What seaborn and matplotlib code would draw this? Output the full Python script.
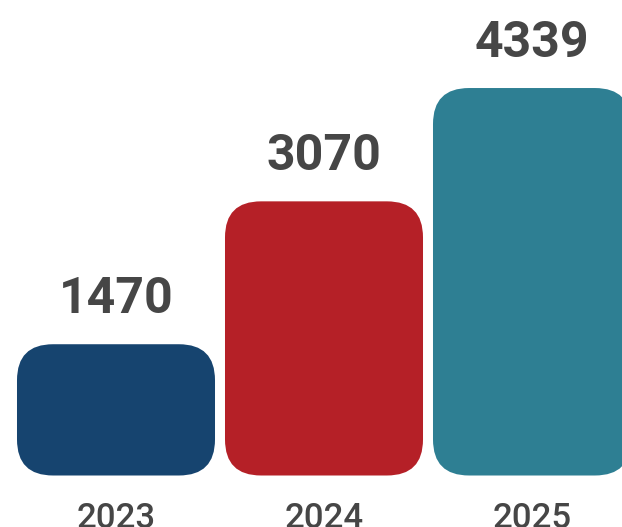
import matplotlib
matplotlib.use("Agg")
import matplotlib.pyplot as plt
import seaborn as sns
import pandas as pd
from matplotlib.patches import FancyBboxPatch

years = ["2023", "2024", "2025"]
values = [1470, 3070, 4339]
colors = ["#16446F", "#B52027", "#2E7F93"]
text_color = "#464646"

sns.set_theme(style="white")
plt.rcParams["font.family"] = ["Roboto", "DejaVu Sans"]

df = pd.DataFrame({"year": years, "value": values})

fig = plt.figure(figsize=(6.22, 5.27), dpi=100)
ax = fig.add_axes([0, 0, 1, 1])
sns.barplot(data=df, x="year", y="value", hue="year", palette=colors,
            width=0.952, legend=False, ax=ax, saturation=1)

px_per_unit = 0.0893
ax.set_xlim(-0.5577, 2.4327)
ax.set_ylim(-51.5 / px_per_unit, (527 - 51.5) / px_per_unit)

x_units_per_px = 1 / 208.0
y_units_per_px = 1 / px_per_unit
aspect = y_units_per_px / x_units_per_px
radius_px = 36

for p, c in zip(list(ax.patches), colors):
    x, y = p.get_x(), p.get_y()
    w, h = p.get_width(), p.get_height()
    p.remove()
    fb = FancyBboxPatch((x, y), w, h,
                        boxstyle=f"round,pad=0,rounding_size={radius_px * x_units_per_px}",
                        mutation_aspect=aspect, facecolor=c, edgecolor="none")
    ax.add_patch(fb)

for i, v in enumerate(values):
    ax.annotate(f"{v}", (i, v), xytext=(0, 31 * 0.72), textcoords="offset points",
                ha="center", va="baseline", fontsize=36, fontweight="bold",
                color=text_color)
    ax.text(i, -51.5 / px_per_unit - 1 / px_per_unit, years[i], ha="center",
            va="baseline", fontsize=25, fontweight="medium", color=text_color)

ax.set_axis_off()
fig.savefig("out.png", dpi=100)
